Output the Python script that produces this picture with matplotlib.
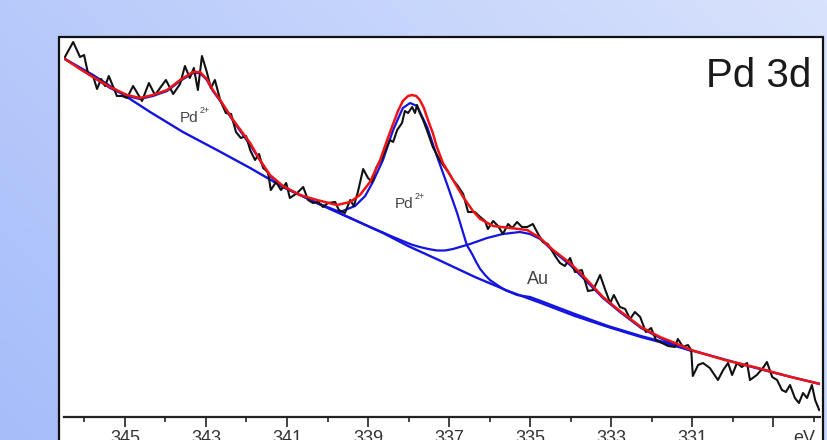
"""Pd 3d XPS spectrum with peak fit (Pd2+ doublet + Au), redrawn from the figure."""

import matplotlib

matplotlib.use("Agg")
import matplotlib.pyplot as plt
import numpy as np
from matplotlib.patches import Rectangle

plt.rcParams["font.family"] = ["Liberation Sans", "DejaVu Sans"]

# measured spectrum (binding energy eV, intensity a.u.)
spec_E = [346.51, 346.28, 346.11, 346.01, 345.91, 345.79, 345.69, 345.59, 345.49, 345.40,
          345.30, 345.20, 345.07, 344.95, 344.80, 344.58, 344.41, 344.26, 343.99, 343.81,
          343.64, 343.52, 343.40, 343.30, 343.20, 343.10, 342.98, 342.88, 342.78, 342.65,
          342.51, 342.38, 342.26, 342.14, 342.01, 341.91, 341.79, 341.69, 341.59, 341.47,
          341.40, 341.27, 341.15, 341.02, 340.93, 340.75, 340.60, 340.48, 340.36, 340.23,
          340.11, 339.99, 339.81, 339.72, 339.57, 339.44, 339.35, 339.25, 339.12, 339.00,
          338.90, 338.80, 338.65, 338.46, 338.38, 338.28, 338.16, 338.09, 338.01, 337.91,
          337.84, 337.79, 337.72, 337.64, 337.52, 337.40, 337.27, 337.15, 337.02, 336.90,
          336.78, 336.65, 336.53, 336.36, 336.23, 336.11, 336.04, 335.91, 335.79, 335.67,
          335.54, 335.44, 335.32, 335.20, 335.07, 334.93, 334.80, 334.68, 334.56, 334.38,
          334.26, 334.14, 334.01, 333.89, 333.72, 333.57, 333.44, 333.27, 333.15, 333.02,
          332.93, 332.78, 332.65, 332.53, 332.41, 332.28, 332.14, 332.01, 331.89, 331.74,
          331.59, 331.42, 331.35, 331.22, 331.10, 331.02, 330.98, 330.85, 330.73, 330.56,
          330.36, 330.23, 330.11, 330.01, 329.89, 329.77, 329.64, 329.57, 329.40, 329.25,
          329.15, 329.02, 328.90, 328.78, 328.68, 328.58, 328.46, 328.36, 328.26, 328.16,
          328.04, 327.96, 327.86]
spec_I = [358, 375, 360, 362, 343, 341, 328, 338, 331, 341,
          331, 321, 321, 319, 331, 316, 334, 322, 337, 323,
          333, 351, 339, 349, 327, 361, 345, 329, 337, 317,
          304, 303, 285, 279, 281, 267, 257, 263, 249, 245,
          227, 235, 227, 234, 219, 224, 230, 217, 214, 215,
          210, 214, 215, 207, 204, 217, 211, 225, 248, 239,
          235, 249, 259, 277, 275, 287, 294, 306, 304, 310,
          304, 312, 304, 297, 284, 270, 260, 252, 245, 237,
          231, 223, 205, 205, 200, 196, 188, 196, 191, 183,
          193, 189, 195, 190, 190, 193, 183, 175, 173, 161,
          154, 151, 159, 145, 147, 126, 127, 142, 128, 114,
          122, 110, 108, 98, 105, 100, 85, 89, 77, 74,
          71, 70, 78, 70, 72, 67, 41, 52, 54, 49,
          37, 47, 54, 42, 54, 50, 54, 37, 42, 49,
          55, 40, 37, 27, 25, 32, 19, 14, 24, 19,
          32, 17, 7]

# fit envelope (red)
env_E = [346.48, 346.11, 345.79, 345.37, 344.95, 344.63, 344.31, 343.96, 343.64, 343.32,
         343.15, 342.98, 342.83, 342.65, 342.33, 341.91, 341.67, 341.42, 341.10, 340.68,
         340.26, 339.77, 339.44, 339.20, 338.95, 338.70, 338.51, 338.38, 338.26, 338.14,
         338.01, 337.91, 337.81, 337.72, 337.62, 337.52, 337.40, 337.30, 337.15, 336.90,
         336.65, 336.41, 336.23, 335.91, 335.49, 335.07, 334.75, 334.43, 334.01, 333.59,
         333.20, 332.78, 332.26, 331.79, 331.42, 331.02, 330.19, 329.37, 328.56, 327.84]
env_I = [358, 348, 340, 330, 322, 319, 322, 327, 337, 345,
         345, 338, 327, 317, 297, 274, 257, 242, 231, 222,
         217, 212, 215, 222, 235, 257, 279, 293, 306, 316,
         321, 322, 321, 317, 309, 297, 284, 270, 254, 237,
         220, 206, 198, 191, 189, 187, 179, 167, 154, 137,
         120, 106, 90, 80, 74, 67, 57, 49, 40, 33]

# background (blue)
bg_E = [346.48, 345.79, 344.95, 344.38, 343.57, 342.73, 341.91, 341.10, 340.26, 339.44,
        338.63, 338.01, 337.20, 336.36, 335.54, 334.73, 333.89, 333.07, 332.26, 331.42,
        330.60, 329.79, 328.95, 327.84]
bg_I = [358, 342, 320, 305, 285, 267, 249, 230, 214, 199,
        184, 171, 156, 140, 126, 114, 101, 90, 80, 71,
        62, 53, 44, 33]

# components (blue): Pd2+ 3d3/2, Pd2+ 3d5/2, Au
pd1_E = [346.48, 345.79, 345.37, 344.95, 344.63, 344.31, 343.96, 343.64, 343.32, 343.15,
         342.98, 342.83, 342.65, 342.33, 341.91, 341.42, 341.10, 340.68, 340.26, 339.44]
pd1_I = [358, 340, 329, 321, 318, 321, 326, 336, 344, 344,
         337, 326, 316, 296, 272, 241, 230, 222, 214, 199]

pd2_E = [340.26, 339.69, 339.32, 339.07, 338.88, 338.63, 338.38, 338.14, 337.96, 337.79,
         337.54, 337.30, 337.05, 336.80, 336.68, 336.56, 336.43, 336.33, 336.23, 336.11,
         335.99, 335.81, 335.62, 335.32, 335.00, 334.73, 333.89, 333.07, 332.26, 331.42]
pd2_I = [214, 205, 211, 221, 235, 257, 287, 309, 314, 311,
         290, 261, 233, 204, 188, 172, 163, 155, 148, 142,
         137, 132, 127, 122, 120, 116, 103, 91, 81, 72]

au_E = [339.44, 338.95, 338.63, 338.38, 338.14, 337.93, 337.72, 337.51, 337.30, 337.10,
        336.90, 336.48, 336.06, 335.67, 335.25, 335.00, 334.75, 334.43, 334.01, 333.59,
        333.20, 332.78, 332.26, 331.79, 331.42, 331.02]
au_I = [199, 190, 184.5, 180, 176, 172.5, 170, 168, 166.5, 166.5,
        168, 173, 179, 183, 185, 183, 178, 166, 152, 135,
        119, 105, 89, 79, 72, 66]

major_ticks = [345, 343, 341, 339, 337, 335, 333, 331, 329]
major_labels = ["345", "343", "341", "339", "337", "335", "333", "331", ""]
minor_ticks = [346, 344, 342, 340, 338, 336, 334, 332, 330, 328]

BLUE = "#1414e0"
RED = "#ee1414"

fig = plt.figure(figsize=(8.28, 4.40), dpi=100)

# blue gradient backdrop
bg = fig.add_axes([0, 0, 1, 1], zorder=0)
gx, gy = np.meshgrid(np.linspace(0, 1, 200), np.linspace(1, 0, 100))
t = np.clip(0.65 * gx + 0.35 * gy, 0, 1)[..., None]
c0 = np.array([166, 189, 250]) / 255
c1 = np.array([216, 226, 252]) / 255
bg.imshow(c0 + (c1 - c0) * t, extent=[0, 1, 0, 1], aspect="auto")
bg.set_xlim(0, 1)
bg.set_ylim(0, 1)
bg.axis("off")
bg.add_patch(Rectangle((59.5 / 828, -0.1), (823 - 59.5) / 828, 1.0159,
                       facecolor="white", edgecolor="#111111", lw=1.6))

ax = fig.add_axes([64 / 828, 1 - 417 / 440, 756 / 828, 380 / 440], zorder=1)
ax.set_facecolor("none")

ax.plot(bg_E, bg_I, color=BLUE, lw=1.7, zorder=2)
ax.plot(pd1_E, pd1_I, color=BLUE, lw=1.6, zorder=2)
ax.plot(pd2_E, pd2_I, color=BLUE, lw=1.6, zorder=2)
ax.plot(au_E, au_I, color=BLUE, lw=1.6, zorder=2)
ax.plot(spec_E, spec_I, color="#111111", lw=1.5, zorder=3)
ax.plot(env_E, env_I, color=RED, lw=1.8, zorder=4)

ax.set_xlim(346.506, 327.84)
ax.set_ylim(0, 380)

for s in ("left", "right", "top"):
    ax.spines[s].set_visible(False)
ax.spines["bottom"].set_linewidth(1.6)
ax.spines["bottom"].set_color("#222222")
ax.set_yticks([])
ax.set_xticks(major_ticks)
ax.set_xticklabels(major_labels)
ax.set_xticks(minor_ticks, minor=True)
ax.tick_params(axis="x", which="major", direction="out", length=7, width=1.2,
               color="#222222", labelsize=13, labelcolor="#333333", pad=2)
ax.tick_params(axis="x", which="minor", direction="out", length=3.8, width=1.2,
               color="#222222")
ax.annotate("eV", xy=(328.23, 0), xycoords=("data", "axes fraction"),
            xytext=(0, -9.4), textcoords="offset points", ha="center", va="top",
            fontsize=13, color="#333333")

ax.text(328.06, 330, "Pd 3d", ha="right", va="baseline", fontsize=29, color="#1a1a1a")
for lx, ly in [(343.64, 295), (338.33, 209)]:
    ax.text(lx, ly, "Pd", ha="left", va="baseline", fontsize=11, color="#444444")
    ax.annotate("2+", xy=(lx, ly), xytext=(14.0, 6.5), textcoords="offset points",
                ha="left", va="baseline", fontsize=6.5, color="#444444")
ax.text(335.07, 133, "Au", ha="left", va="baseline", fontsize=13, color="#444444")

fig.savefig("out.png", dpi=100)
